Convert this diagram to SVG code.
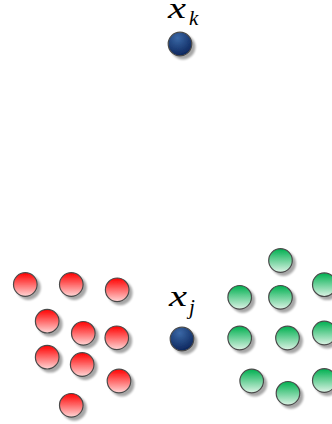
<svg xmlns="http://www.w3.org/2000/svg" width="332" height="424" viewBox="0 0 332 424">
<defs>
<linearGradient id="gRed" x1="0" y1="0" x2="0" y2="1">
<stop offset="0" stop-color="#ff0000"/>
<stop offset="1" stop-color="#ffd6d6"/>
</linearGradient>
<linearGradient id="gGreen" x1="0" y1="0" x2="0" y2="1">
<stop offset="0" stop-color="#00b050"/>
<stop offset="1" stop-color="#dcf3e5"/>
</linearGradient>
<radialGradient id="gBlue" cx="0.4" cy="0.25" r="0.8">
<stop offset="0" stop-color="#3a68a6"/>
<stop offset="1" stop-color="#0a2258"/>
</radialGradient>
<filter id="sh" x="-50%" y="-50%" width="200%" height="200%">
<feGaussianBlur in="SourceAlpha" stdDeviation="1.3"/>
<feOffset dx="2.5" dy="2.5" result="b"/>
<feComponentTransfer><feFuncA type="linear" slope="0.35"/></feComponentTransfer>
<feMerge><feMergeNode/><feMergeNode in="SourceGraphic"/></feMerge>
</filter>
</defs>
<style>
circle{stroke:#4a4a4a;stroke-width:1.2;filter:url(#sh)}
.r{fill:url(#gRed)}
.g{fill:url(#gGreen)}
.b{fill:url(#gBlue)}
.lbl{font-family:"Liberation Serif","DejaVu Serif",serif;font-style:italic;fill:#000}
.main{font-size:30px}
.sub{font-size:21px}
</style>
<rect width="332" height="424" fill="#ffffff"/>
<g id="connectors"/>
<g id="xk">
<circle class="b" cx="180" cy="44" r="11.8"/>
<text class="lbl main" x="168" y="18" transform="translate(168 18) scale(1.35 1) translate(-168 -18)">x</text>
<text class="lbl sub" x="189" y="25">k</text>
</g>
<g id="xj">
<circle class="b" cx="182" cy="339" r="11.8"/>
<text class="lbl main" x="169" y="306" transform="translate(169 306) scale(1.35 1) translate(-169 -306)">x</text>
<text class="lbl sub" x="189" y="314">j</text>
</g>
<g id="red1"><circle class="r" cx="25.3" cy="284.5" r="11.8"/></g>
<g id="red2"><circle class="r" cx="71.3" cy="284.5" r="11.8"/></g>
<g id="red3"><circle class="r" cx="117.2" cy="289.8" r="11.8"/></g>
<g id="red4"><circle class="r" cx="47.2" cy="321.2" r="11.8"/></g>
<g id="red5"><circle class="r" cx="83.3" cy="333.3" r="11.8"/></g>
<g id="red6"><circle class="r" cx="116.8" cy="337.8" r="11.8"/></g>
<g id="red7"><circle class="r" cx="47.2" cy="357.2" r="11.8"/></g>
<g id="red8"><circle class="r" cx="82.2" cy="364.5" r="11.8"/></g>
<g id="red9"><circle class="r" cx="119" cy="381" r="11.8"/></g>
<g id="red10"><circle class="r" cx="71.3" cy="405.3" r="11.8"/></g>
<g id="green1"><circle class="g" cx="280.5" cy="260.5" r="11.8"/></g>
<g id="green2"><circle class="g" cx="239.7" cy="297.3" r="11.8"/></g>
<g id="green3"><circle class="g" cx="280.5" cy="297.3" r="11.8"/></g>
<g id="green4"><circle class="g" cx="324.3" cy="284.7" r="11.8"/></g>
<g id="green5"><circle class="g" cx="239.7" cy="338" r="11.8"/></g>
<g id="green6"><circle class="g" cx="287.5" cy="338" r="11.8"/></g>
<g id="green7"><circle class="g" cx="324.3" cy="333" r="11.8"/></g>
<g id="green8"><circle class="g" cx="251.7" cy="381" r="11.8"/></g>
<g id="green9"><circle class="g" cx="288" cy="393.3" r="11.8"/></g>
<g id="green10"><circle class="g" cx="324.3" cy="380.5" r="11.8"/></g>
</svg>
